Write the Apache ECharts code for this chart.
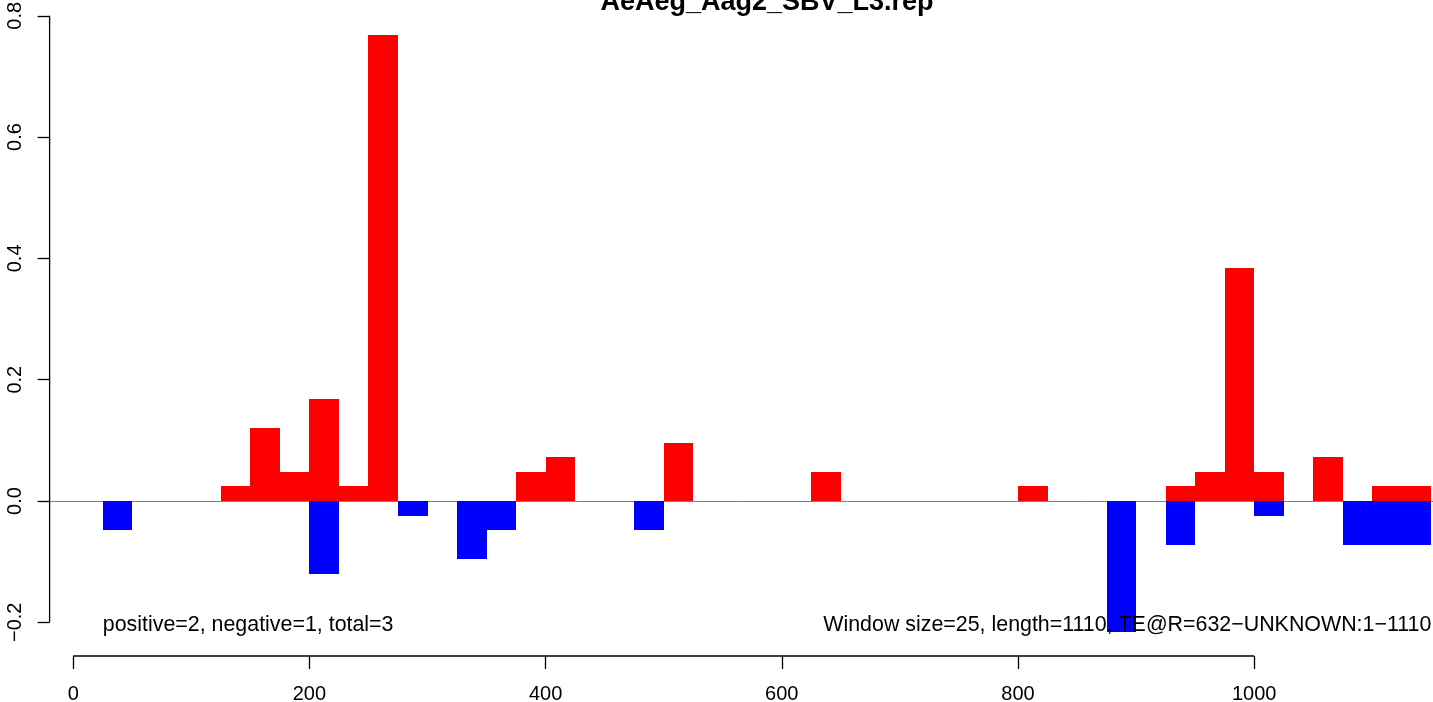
<!DOCTYPE html>
<html>
<head>
<meta charset="utf-8">
<script src="https://cdn.jsdelivr.net/npm/echarts@6/dist/echarts.min.js"></script>
<style>
html,body{margin:0;padding:0;background:#fff;}
#chart{width:1433px;height:702px;}
</style>
</head>
<body>
<div id="chart"></div>
<script>
// ---- data ----
const titleText = 'AeAeg_Aag2_SBV_L3.rep';
const windowSize = 25;
const positiveStarts = [125, 150, 175, 200, 225, 250, 375, 400, 500, 625, 800, 925, 950, 975, 1000, 1050, 1100, 1125];
const positiveValues = [0.024, 0.12, 0.048, 0.168, 0.024, 0.768, 0.048, 0.072, 0.096, 0.048, 0.024, 0.024, 0.048, 0.384, 0.048, 0.072, 0.024, 0.024];
const negativeStarts = [25, 200, 275, 325, 350, 475, 875, 925, 1000, 1075, 1100, 1125];
const negativeValues = [-0.048, -0.12, -0.024, -0.096, -0.048, -0.048, -0.216, -0.072, -0.024, -0.072, -0.072, -0.072];
const xTicks = [0, 200, 400, 600, 800, 1000];
const yTicks = [-0.2, 0.0, 0.2, 0.4, 0.6, 0.8];
const leftNote = 'positive=2, negative=1, total=3';
const rightNote = 'Window size=25, length=1110, TE@R=632\u2212UNKNOWN:1\u22121110';
const noteLeftX = 25, noteRightX = 1150, noteY = -0.2;

// ---- layout ----
const X_MIN = -20, X_MAX = 1151.4;
const Y_MIN = -0.2556, Y_MAX = 0.8079;
const FONT = '"Liberation Sans", Arial, Helvetica, sans-serif';

const chart = echarts.init(document.getElementById('chart'), null, {renderer: 'canvas'});

function barData(starts, values) {
  return starts.map((s, i) => [s, values[i]]);
}

function renderBar(color) {
  return function (params, api) {
    const x = api.value(0), v = api.value(1);
    const p0 = api.coord([x, 0]);
    const p1 = api.coord([x + windowSize, v]);
    const x0 = Math.round(Math.min(p0[0], p1[0]));
    const x1 = Math.round(Math.max(p0[0], p1[0]));
    const y0 = Math.round(Math.min(p0[1], p1[1]));
    const y1 = Math.round(Math.max(p0[1], p1[1]));
    return {
      type: 'rect',
      shape: {x: x0, y: y0, width: x1 - x0, height: y1 - y0},
      style: {fill: color}
    };
  };
}

const option = {
  animation: false,
  backgroundColor: '#ffffff',
  grid: {left: 49.6, right: 0, top: 11, bottom: 46, containLabel: false, outerBoundsMode: 'none'},
  xAxis: {
    type: 'value', min: X_MIN, max: X_MAX,
    axisLine: {show: false, onZero: false},
    splitLine: {show: false},
    axisTick: {show: true, customValues: xTicks, length: 13, lineStyle: {color: '#000', width: 1.3}},
    axisLabel: {show: true, customValues: xTicks, margin: 28, fontSize: 20, color: '#000', fontFamily: FONT,
      formatter: v => String(v)}
  },
  yAxis: {
    type: 'value', min: Y_MIN, max: Y_MAX,
    axisLine: {show: false, onZero: false},
    splitLine: {show: false},
    axisTick: {show: true, customValues: yTicks, length: 12, lineStyle: {color: '#000', width: 1.3}},
    axisLabel: {show: true, customValues: yTicks, rotate: 90, margin: 24, fontSize: 20, color: '#000', fontFamily: FONT,
      formatter: v => v.toFixed(1).replace('-', '\u2212')}
  },
  series: [
    {
      type: 'custom', name: 'zero', silent: true, z: 1, clip: false,
      data: [[0]],
      renderItem: function (params, api) {
        const a = api.coord([X_MIN, 0]);
        const b = api.coord([X_MAX, 0]);
        return {type: 'line', shape: {x1: a[0], y1: Math.round(a[1]) + 0.5, x2: b[0], y2: Math.round(b[1]) + 0.5},
          style: {stroke: '#808080', lineWidth: 1}};
      }
    },
    {
      type: 'custom', name: 'positive', z: 2, clip: false,
      data: barData(positiveStarts, positiveValues),
      renderItem: renderBar('#FF0000')
    },
    {
      type: 'custom', name: 'negative', z: 2, clip: false,
      data: barData(negativeStarts, negativeValues),
      renderItem: renderBar('#0000FF')
    },
    {
      type: 'custom', name: 'axes', silent: true, z: 3, clip: false,
      data: [[0]],
      renderItem: function (params, api) {
        const xa = api.coord([xTicks[0], Y_MIN]);
        const xb = api.coord([xTicks[xTicks.length - 1], Y_MIN]);
        const ya = api.coord([X_MIN, yTicks[0]]);
        const yb = api.coord([X_MIN, yTicks[yTicks.length - 1]]);
        return {type: 'group', children: [
          {type: 'line', shape: {x1: xa[0], y1: xa[1], x2: xb[0], y2: xb[1]}, style: {stroke: '#000', lineWidth: 1.3}},
          {type: 'line', shape: {x1: ya[0], y1: ya[1], x2: yb[0], y2: yb[1]}, style: {stroke: '#000', lineWidth: 1.3}}
        ]};
      }
    },
    {
      type: 'custom', name: 'notes', silent: true, z: 4, clip: false,
      data: [[0]],
      renderItem: function (params, api) {
        const l = api.coord([noteLeftX, noteY]);
        const r = api.coord([noteRightX, noteY]);
        return {type: 'group', children: [
          {type: 'text', x: l[0], y: l[1] + 3.3, style: {text: leftNote, fill: '#000', font: '21.4px ' + FONT, align: 'left', verticalAlign: 'middle'}},
          {type: 'text', x: r[0], y: r[1] + 3.3, style: {text: rightNote, fill: '#000', font: '21.4px ' + FONT, align: 'right', verticalAlign: 'middle'}}
        ]};
      }
    }
  ],
  graphic: [
    {type: 'text', x: 767, y: 2.7, z: 10,
      style: {text: titleText, fill: '#000', font: 'bold 27px ' + FONT, align: 'center', verticalAlign: 'middle'}}
  ]
};

chart.setOption(option);
</script>
</body>
</html>
